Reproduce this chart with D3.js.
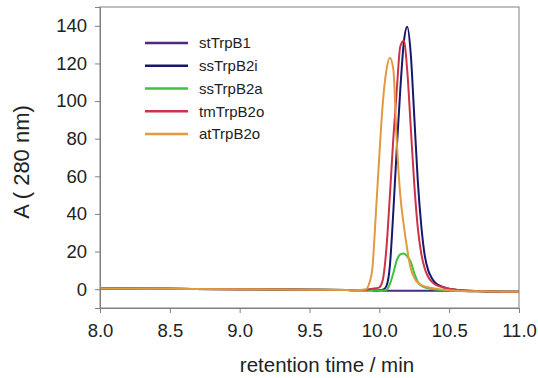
<!DOCTYPE html>
<html>
<head>
<meta charset="utf-8">
<script src="https://cdn.jsdelivr.net/npm/d3@7"></script>
<style>
  body { margin: 0; background: #fff; }
  text { font-family: "Liberation Sans", Arial, sans-serif; fill: #222; }
</style>
</head>
<body>
<div id="chart"></div>
<script>
"use strict";
var w = 538;
var h = 378;
var margin = {top: 7, right: 19, bottom: 70, left: 100};

// retention time (min), shared by every trace
var times = [8.0, 8.5, 9.0, 9.5, 9.8, 9.85, 9.9, 9.925, 9.95, 9.975,
             10.0, 10.025, 10.05, 10.075, 10.1, 10.125, 10.15, 10.175, 10.2, 10.225,
             10.25, 10.275, 10.3, 10.325, 10.35, 10.375, 10.4, 10.45, 10.5, 10.6,
             10.7, 10.8, 10.9, 11.0];

var names = ["stTrpB1", "ssTrpB2i", "ssTrpB2a", "tmTrpB2o", "atTrpB2o"];
var colors = ["#50287f", "#15186b", "#3cc43c", "#cc3346", "#e09a40"];

// absorbance at 280 nm
var stTrpB1 = [0.4, 0.2, 0, -0.3, -0.5, -0.5, -0.6, -0.6, -0.6, -0.7,
               -0.7, -0.8, -0.8, -0.8, -0.8, -0.8, -0.8, -0.8, -0.8, -0.8,
               -0.8, -0.8, -0.8, -0.8, -0.8, -0.8, -0.8, -0.8, -0.9, -1.0,
               -1.1, -1.2, -1.3, -1.4];
var ssTrpB2i = [0.4, 0.2, 0, -0.3, -0.5, -0.5, -0.6, -0.6, -0.6, -0.7,
                -0.6, -0.3, 1.5, 12, 41, 75, 106, 131, 139.5, 125,
                92, 58, 34, 18, 10, 6, 3.5, 1.3, 0.2, -0.7,
                -1.0, -1.2, -1.3, -1.4];
var ssTrpB2a = [0.4, 0.2, 0, -0.3, -0.5, -0.5, -0.6, -0.6, -0.6, -0.7,
                -0.7, -0.7, -0.4, 2.5, 8.5, 15.5, 18.5, 19, 17.5, 14.5,
                8.5, 4, 1.8, 1, 0.5, 0.1, -0.2, -0.5, -0.8, -1.0,
                -1.1, -1.2, -1.3, -1.4];
var tmTrpB2o = [0.4, 0.2, 0, -0.3, -0.4, -0.4, -0.3, 0, 0.3, 0.5,
                1, 5, 21, 49, 80, 106, 129, 132, 116, 86,
                56, 33, 19, 11, 6.5, 4, 2.5, 1.2, 0.3, -0.6,
                -1.0, -1.2, -1.3, -1.4];
var atTrpB2o = [0.4, 0.2, 0, -0.3, -0.5, -0.4, -0.2, 2.5, 11, 40,
                71, 99, 116, 123, 117, 78, 50, 34, 21, 11,
                6, 3.5, 2.2, 1.5, 1, 0.6, 0.3, -0.2, -0.5, -0.9,
                -1.1, -1.2, -1.3, -1.4];

var series = [stTrpB1, ssTrpB2i, ssTrpB2a, tmTrpB2o, atTrpB2o];
var xTicks = [8.0, 8.5, 9.0, 9.5, 10.0, 10.5, 11.0];
var yTicks = [0, 20, 40, 60, 80, 100, 120, 140];

function init() {
    draw();
}
window.onload = init;

function draw() {
    var svg = d3.select("#chart")
        .append("svg")
        .attr("width", w)
        .attr("height", h);

    var x = d3.scaleLinear().domain([8, 11]).range([margin.left, w - margin.right]);
    var y = d3.scaleLinear().domain([-10, 150]).range([h - margin.bottom, margin.top]);

    var line = d3.line()
        .x(function(d){ return x(d[0]); })
        .y(function(d){ return y(d[1]); })
        .curve(d3.curveMonotoneX);

    // traces, legend order so orange ends up on top
    series.forEach(function(vals, i){
        var pts = times.map(function(t, j){ return [t, vals[j]]; });
        svg.append("path")
            .datum(pts)
            .attr("d", line)
            .attr("fill", "none")
            .attr("stroke", colors[i])
            .attr("stroke-width", 2)
            .attr("stroke-linejoin", "round");
    });

    // frame
    svg.append("rect")
        .attr("x", x(8)).attr("y", y(150))
        .attr("width", x(11) - x(8)).attr("height", y(-10) - y(150))
        .attr("fill", "none").attr("stroke", "#808080").attr("stroke-width", 1);

    var xAxis = svg.append("g")
        .attr("transform", "translate(0," + (h - margin.bottom) + ")")
        .call(d3.axisBottom(x).tickValues(xTicks).tickFormat(d3.format(".1f")).tickSize(5).tickPadding(11));
    var yAxis = svg.append("g")
        .attr("transform", "translate(" + margin.left + ",0)")
        .call(d3.axisLeft(y).tickValues(yTicks).tickSize(5).tickPadding(8));

    [xAxis, yAxis].forEach(function(g){
        g.select(".domain").attr("stroke", "#808080");
        g.selectAll(".tick line").attr("stroke", "#808080");
        g.selectAll(".tick text")
            .attr("fill", "#222")
            .style("font-family", "'Liberation Sans', Arial, sans-serif")
            .style("font-size", "18.5px");
    });

    svg.append("text")
        .attr("x", 327).attr("y", 372)
        .attr("text-anchor", "middle")
        .style("font-size", "20.5px")
        .text("retention time / min");

    svg.append("text")
        .attr("transform", "translate(29,162) rotate(-90)")
        .attr("text-anchor", "middle")
        .style("font-size", "22px")
        .text("A ( 280 nm)");

    // legend
    var legend = svg.append("g").attr("class", "legend");
    names.forEach(function(name, i){
        var ly = 43 + i * 22.75;
        legend.append("line")
            .attr("x1", 145).attr("x2", 188)
            .attr("y1", ly).attr("y2", ly)
            .attr("stroke", colors[i]).attr("stroke-width", 2.5);
        legend.append("text")
            .attr("x", 199).attr("y", ly)
            .attr("dy", "0.35em")
            .style("font-size", "15px")
            .text(name);
    });
}
</script>
</body>
</html>
